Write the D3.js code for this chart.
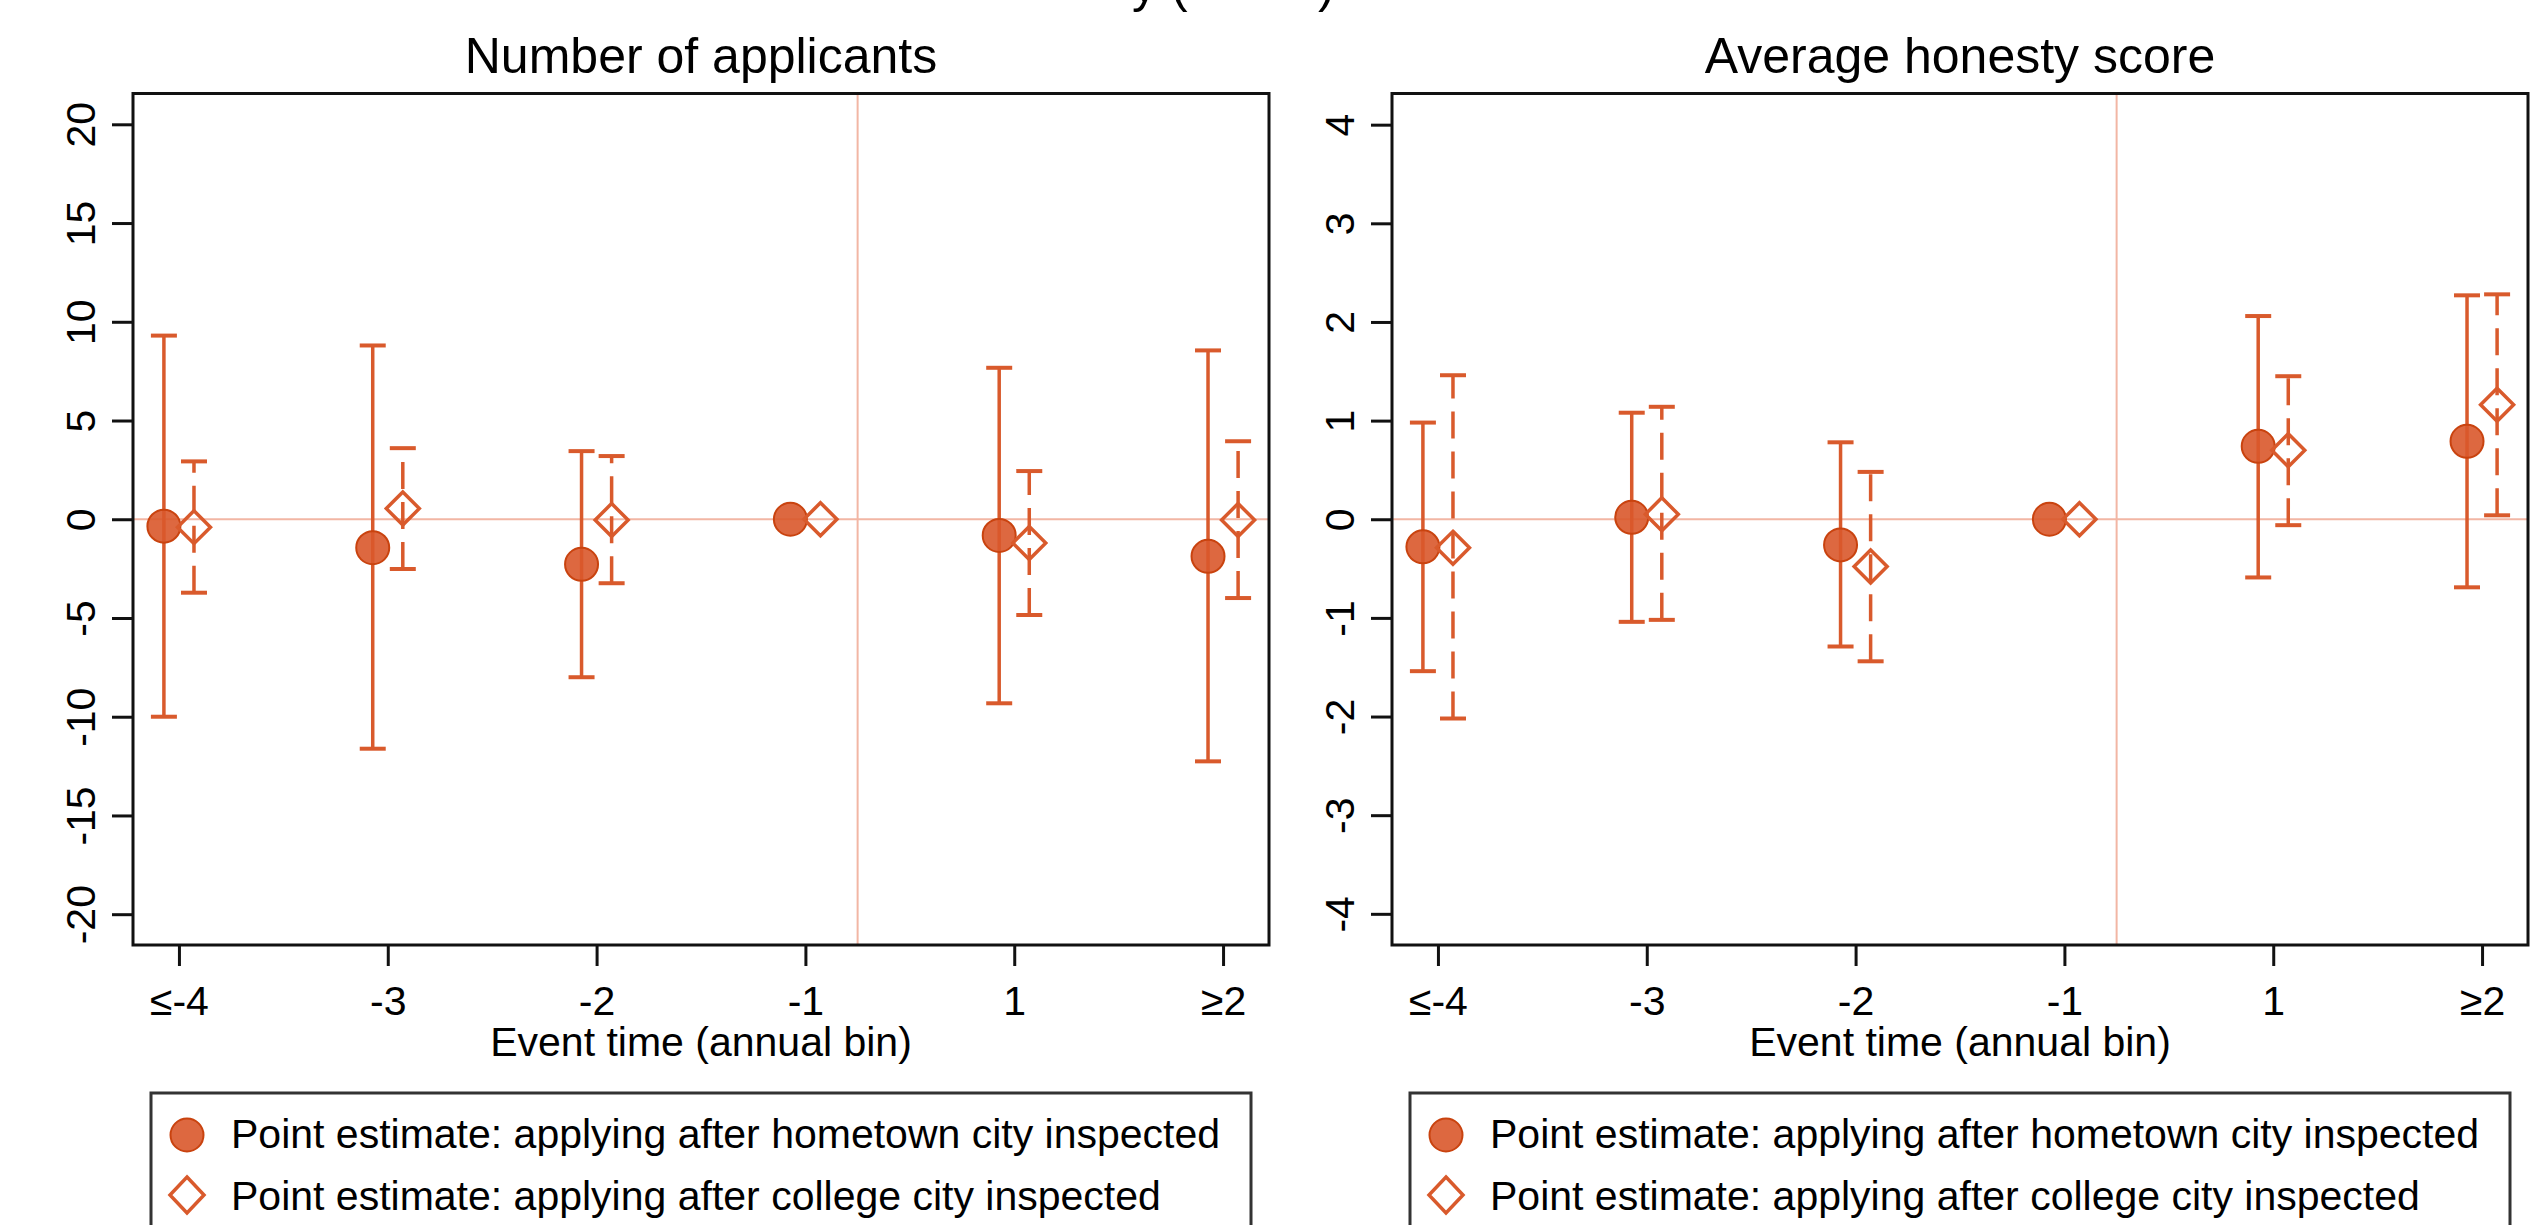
<!DOCTYPE html>
<html>
<head>
<meta charset="utf-8">
<script src="https://cdn.jsdelivr.net/npm/d3@7"></script>
<style>
  html, body { margin: 0; padding: 0; background: #fff; }
  svg { display: block; }
  text { font-family: "Liberation Sans", Arial, sans-serif; fill: #000; }
</style>
</head>
<body>
<svg id="chart" width="2531" height="1225"></svg>
<script>
// ---------------- data ----------------
const categories = ["≤-4", "-3", "-2", "-1", "1", "≥2"];
const xLabel = "Event time (annual bin)";
const seriesNames = [
  "Point estimate: applying after hometown city inspected",
  "Point estimate: applying after college city inspected"
];

// Panel 1: Number of applicants
const appTitle = "Number of applicants";
const appTicks = [-20, -15, -10, -5, 0, 5, 10, 15, 20];
const appHome      = [-0.35, -1.44, -2.28, 0, -0.82, -1.88];
const appHomeLo    = [-10.0, -11.62, -8.0, null, -9.32, -12.26];
const appHomeHi    = [9.3, 8.8, 3.45, null, 7.67, 8.55];
const appCollege   = [-0.4, 0.54, -0.04, 0, -1.2, -0.04];
const appCollegeLo = [-3.72, -2.52, -3.24, null, -4.85, -3.99];
const appCollegeHi = [2.93, 3.6, 3.2, null, 2.44, 3.95];

// Panel 2: Average honesty score
const honTitle = "Average honesty score";
const honTicks = [-4, -3, -2, -1, 0, 1, 2, 3, 4];
const honHome      = [-0.28, 0.02, -0.26, 0, 0.74, 0.79];
const honHomeLo    = [-1.54, -1.04, -1.29, null, -0.59, -0.69];
const honHomeHi    = [0.98, 1.08, 0.78, null, 2.06, 2.27];
const honCollege   = [-0.29, 0.05, -0.48, 0, 0.70, 1.16];
const honCollegeLo = [-2.02, -1.02, -1.44, null, -0.06, 0.04];
const honCollegeHi = [1.46, 1.14, 0.48, null, 1.45, 2.28];

const eventLinePos = 3.25; // between "-1" and "1"

// ---------------- style ----------------
const C_FILL = "#d9582b";
const C_EDGE = "#c9430f";
const C_BAR = "#d95a2c";
const C_REF = "#f2b6a4";

const svg = d3.select("#chart");

// clipped super-title fragments at the very top edge (only descenders visible)
svg.append("text").attr("x", 1132).attr("y", 2)
  .style("font-size", "50px").text("y (");
svg.append("text").attr("x", 1318).attr("y", 2)
  .style("font-size", "50px").text(")");

function panel(opts) {
  const { x0, x1, y0, y1, title, ticks, yMax,
          home, homeLo, homeHi, col, colLo, colHi } = opts;
  const g = svg.append("g");
  const x = d3.scaleLinear().domain([-0.22, 5.22]).range([x0, x1]);
  const y = d3.scaleLinear().domain([-yMax, yMax]).range([y1, y0]);
  const off = 0.072;

  // reference lines
  g.append("line")
    .attr("x1", x0).attr("x2", x1)
    .attr("y1", y(0)).attr("y2", y(0))
    .attr("stroke", C_REF).attr("stroke-width", 2);
  g.append("line")
    .attr("x1", x(eventLinePos)).attr("x2", x(eventLinePos))
    .attr("y1", y0).attr("y2", y1)
    .attr("stroke", C_REF).attr("stroke-width", 2);

  const idx = d3.range(categories.length);
  const capW = 13;

  // college (dashed) bars
  const colBars = idx.filter(i => colLo[i] !== null);
  g.selectAll(".cbar").data(colBars).enter().append("line")
    .attr("x1", i => x(i + off)).attr("x2", i => x(i + off))
    .attr("y1", i => y(colLo[i])).attr("y2", i => y(colHi[i]))
    .attr("stroke", C_BAR).attr("stroke-width", 3.5)
    .attr("stroke-dasharray", "27,13");
  [colLo, colHi].forEach(arr => {
    g.selectAll(null).data(colBars).enter().append("line")
      .attr("x1", i => x(i + off) - capW).attr("x2", i => x(i + off) + capW)
      .attr("y1", i => y(arr[i])).attr("y2", i => y(arr[i]))
      .attr("stroke", C_BAR).attr("stroke-width", 4);
  });

  // hometown (solid) bars
  const homeBars = idx.filter(i => homeLo[i] !== null);
  g.selectAll(".hbar").data(homeBars).enter().append("line")
    .attr("x1", i => x(i - off)).attr("x2", i => x(i - off))
    .attr("y1", i => y(homeLo[i])).attr("y2", i => y(homeHi[i]))
    .attr("stroke", C_BAR).attr("stroke-width", 3.5);
  [homeLo, homeHi].forEach(arr => {
    g.selectAll(null).data(homeBars).enter().append("line")
      .attr("x1", i => x(i - off) - capW).attr("x2", i => x(i - off) + capW)
      .attr("y1", i => y(arr[i])).attr("y2", i => y(arr[i]))
      .attr("stroke", C_BAR).attr("stroke-width", 4);
  });

  // circles
  g.selectAll(".pt").data(idx).enter().append("circle")
    .attr("cx", i => x(i - off)).attr("cy", i => y(home[i]))
    .attr("r", 16.5)
    .attr("fill", C_FILL).attr("fill-opacity", 0.9)
    .attr("stroke", C_EDGE).attr("stroke-width", 2);

  // diamonds
  const d = 16.5;
  g.selectAll(".dm").data(idx).enter().append("path")
    .attr("d", i => {
      const cx = x(i + off), cy = y(col[i]);
      return `M${cx},${cy - d}L${cx + d},${cy}L${cx},${cy + d}L${cx - d},${cy}Z`;
    })
    .attr("fill", "none").attr("stroke", C_BAR).attr("stroke-width", 3.5);

  // frame
  g.append("rect")
    .attr("x", x0).attr("y", y0)
    .attr("width", x1 - x0).attr("height", y1 - y0)
    .attr("fill", "none").attr("stroke", "#111").attr("stroke-width", 3);

  // y axis
  const ya = g.append("g").attr("transform", `translate(${x0},0)`)
    .call(d3.axisLeft(y).tickValues(ticks).tickSize(21).tickFormat(v => String(v)));
  ya.select(".domain").remove();
  ya.selectAll(".tick line").attr("stroke", "#111").attr("stroke-width", 3);
  ya.selectAll(".tick text")
    .attr("x", null).attr("dy", null)
    .attr("transform", "translate(-38,0) rotate(-90)")
    .attr("text-anchor", "middle")
    .style("font-size", "41px")
    .style("font-family", '"Liberation Sans", Arial, sans-serif')
    .attr("fill", "#000");

  // x axis
  const xa = g.append("g").attr("transform", `translate(0,${y1})`)
    .call(d3.axisBottom(x).tickValues(idx).tickSize(21).tickFormat(i => categories[i]));
  xa.select(".domain").remove();
  xa.selectAll(".tick line").attr("stroke", "#111").attr("stroke-width", 3);
  xa.selectAll(".tick text")
    .attr("y", 70).attr("dy", null)
    .style("font-size", "41px")
    .style("font-family", '"Liberation Sans", Arial, sans-serif')
    .attr("fill", "#000");

  // titles
  const cx = (x0 + x1) / 2;
  g.append("text").attr("x", cx).attr("y", 73)
    .attr("text-anchor", "middle").style("font-size", "50px").text(title);
  g.append("text").attr("x", cx).attr("y", 1056)
    .attr("text-anchor", "middle").style("font-size", "41px").text(xLabel);

  // legend
  const lx0 = cx - 550, lx1 = cx + 550;
  g.append("rect").attr("x", lx0).attr("y", 1093)
    .attr("width", lx1 - lx0).attr("height", 200)
    .attr("fill", "#fff").attr("stroke", "#333").attr("stroke-width", 3);
  g.append("circle").attr("cx", lx0 + 36).attr("cy", 1135).attr("r", 16.5)
    .attr("fill", C_FILL).attr("fill-opacity", 0.9)
    .attr("stroke", C_EDGE).attr("stroke-width", 2);
  g.append("path")
    .attr("d", `M${lx0 + 36},${1195 - 18}L${lx0 + 36 + 17},1195L${lx0 + 36},${1195 + 18}L${lx0 + 36 - 17},1195Z`)
    .attr("fill", "none").attr("stroke", C_BAR).attr("stroke-width", 3.5);
  g.append("text").attr("x", lx0 + 80).attr("y", 1148)
    .style("font-size", "41px").text(seriesNames[0]);
  g.append("text").attr("x", lx0 + 80).attr("y", 1210)
    .style("font-size", "41px").text(seriesNames[1]);
}

panel({ x0: 133, x1: 1269, y0: 93.5, y1: 945, title: appTitle, ticks: appTicks, yMax: 21.56,
        home: appHome, homeLo: appHomeLo, homeHi: appHomeHi,
        col: appCollege, colLo: appCollegeLo, colHi: appCollegeHi });
panel({ x0: 1392, x1: 2528, y0: 93.5, y1: 945, title: honTitle, ticks: honTicks, yMax: 4.316,
        home: honHome, homeLo: honHomeLo, homeHi: honHomeHi,
        col: honCollege, colLo: honCollegeLo, colHi: honCollegeHi });
</script>
</body>
</html>
